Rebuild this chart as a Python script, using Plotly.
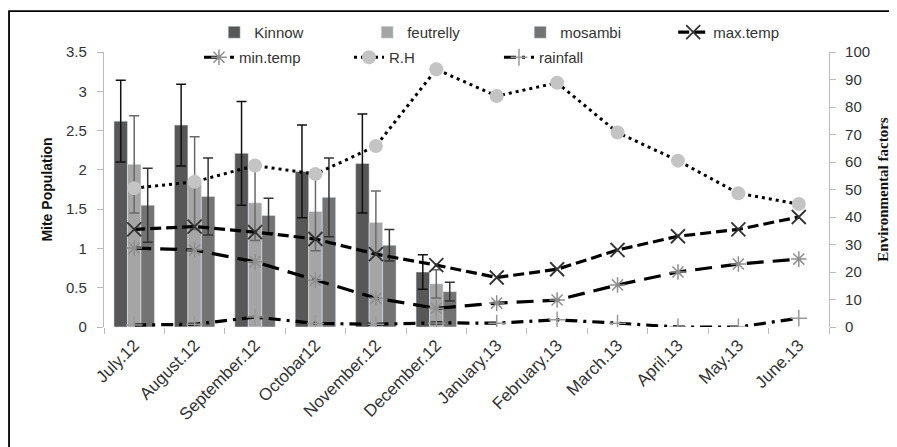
import plotly.graph_objects as go

months = ["July.12", "August.12", "September.12", "Octobar12", "November.12", "December.12",
          "January.13", "February.13", "March.13", "April.13", "May.13", "June.13"]
bar_months = months[:6]

kinnow = [2.62, 2.57, 2.21, 1.98, 2.08, 0.70]
kinnow_err = [0.52, 0.52, 0.66, 0.59, 0.63, 0.22]
feutrelly = [2.07, 1.83, 1.58, 1.47, 1.33, 0.55]
feutrelly_err = [0.62, 0.59, 0.48, 0.50, 0.40, 0.18]
mosambi = [1.55, 1.66, 1.42, 1.65, 1.04, 0.45]
mosambi_err = [0.47, 0.49, 0.22, 0.50, 0.20, 0.12]

max_temp = [35.5, 36.5, 34.5, 32.0, 26.5, 22.5, 18.0, 21.0, 28.0, 33.0, 35.5, 40.0]
min_temp = [28.7, 28.0, 23.7, 17.0, 10.5, 6.8, 8.7, 9.8, 15.3, 20.0, 22.9, 24.7]
rh = [50.5, 52.8, 58.7, 55.6, 65.8, 93.7, 84.0, 88.8, 70.7, 60.5, 48.6, 44.7]
rainfall = [0.7, 1.0, 3.6, 1.3, 1.0, 1.5, 1.4, 2.6, 1.4, 0.0, 0.0, 3.2]

left_ticks = [0, 0.5, 1, 1.5, 2, 2.5, 3, 3.5]
left_ticktext = ["0", "0.5", "1", "1.5", "2", "2.5", "3", "3.5"]
right_ticks = list(range(0, 101, 10))

fig = go.Figure()

fig.add_trace(go.Bar(name="Kinnow", x=bar_months, y=kinnow, marker_color="#575757", legend="legend",
                     error_y=dict(type="data", array=kinnow_err, color="#111111", thickness=1.5, width=5)))
fig.add_trace(go.Bar(name="feutrelly", x=bar_months, y=feutrelly, marker_color="#a5a5a5", legend="legend",
                     error_y=dict(type="data", array=feutrelly_err, color="#6a6a6a", thickness=1.5, width=5)))
fig.add_trace(go.Bar(name="mosambi", x=bar_months, y=mosambi, marker_color="#737373", legend="legend",
                     error_y=dict(type="data", array=mosambi_err, color="#333333", thickness=1.5, width=5)))

fig.add_trace(go.Scatter(name="max.temp", x=months, y=max_temp, yaxis="y2", mode="lines+markers",
                         legend="legend",
                         line=dict(color="#000000", width=3.2, dash="11px,5px"),
                         marker=dict(symbol="x-thin-open", size=14, color="#333333",
                                     line=dict(color="#333333", width=1.8))))
fig.add_trace(go.Scatter(name="min.temp", x=months, y=min_temp, yaxis="y2", mode="lines+markers",
                         legend="legend2",
                         line=dict(color="#000000", width=3.2, dash="17px,9px"),
                         marker=dict(symbol="asterisk-open", size=13, color="#8f8f8f",
                                     line=dict(color="#8f8f8f", width=1.5))))
fig.add_trace(go.Scatter(name="R.H", x=months, y=rh, yaxis="y2", mode="lines+markers",
                         legend="legend2",
                         line=dict(color="#000000", width=3, dash="3px,4px"),
                         marker=dict(symbol="circle", size=14, color="#c4c4c4")))
fig.add_trace(go.Scatter(name="rainfall", x=months, y=rainfall, yaxis="y2", mode="lines+markers",
                         legend="legend2",
                         line=dict(color="#000000", width=3.2, dash="12px,6px,3px,6px"),
                         marker=dict(symbol="cross-thin-open", size=12, color="#9a9a9a",
                                     line=dict(color="#9a9a9a", width=1.5))))

legend_common = dict(orientation="h", xanchor="left", yanchor="top",
                     entrywidthmode="pixels", font=dict(size=15, color="#333333"),
                     bgcolor="rgba(0,0,0,0)")

fig.update_layout(
    width=889, height=439,
    margin=dict(l=96, r=68, t=44, b=120, autoexpand=False),
    paper_bgcolor="white", plot_bgcolor="white",
    barmode="group", bargap=0.33, bargroupgap=0,
    font=dict(family="Liberation Sans, Arial, sans-serif", size=14, color="#333333"),
    showlegend=True,
    legend=dict(x=0.152, y=1.131, entrywidth=108, **legend_common),
    legend2=dict(x=0.131, y=1.04, entrywidth=105, **legend_common),
    xaxis=dict(type="category", categoryorder="array", categoryarray=months, automargin=False,
               range=[-0.5, 11.5],
               tickangle=-45, tickfont=dict(size=17, color="#333333"), ticklabelstandoff=4,
               ticks="outside", tickson="boundaries", ticklen=6, tickcolor="#bbbbbb",
               showline=False, showgrid=False, zeroline=False),
    yaxis=dict(range=[0, 3.5], tickvals=left_ticks, ticktext=left_ticktext, automargin=False,
               showline=True, linecolor="#bbbbbb", linewidth=1.2, ticks="outside", ticklen=6,
               tickcolor="#bbbbbb", showgrid=False, zeroline=False, tickfont=dict(size=15),
               ticklabelstandoff=7,
               title=dict(text="<b>Mite Population</b>", font=dict(size=14, color="#111111"), standoff=10)),
    yaxis2=dict(range=[0, 100], tickvals=right_ticks, overlaying="y", side="right", automargin=False,
                showline=True, linecolor="#bbbbbb", linewidth=1.2, ticks="outside", ticklen=6,
                tickcolor="#bbbbbb", showgrid=False, zeroline=False, tickfont=dict(size=15),
                ticklabelstandoff=6,
                title=dict(text="<b>Environmental factors</b>",
                           font=dict(family="Liberation Serif, Times New Roman, serif", size=15, color="#111111"),
                           standoff=8)),
    shapes=[dict(type="rect", xref="paper", yref="paper",
                 x0=-0.131, x1=1.12, y0=-0.5, y1=1.149,
                 line=dict(color="#000000", width=1.8), fillcolor="rgba(0,0,0,0)", layer="below")],
)

fig.write_html("out.html")
